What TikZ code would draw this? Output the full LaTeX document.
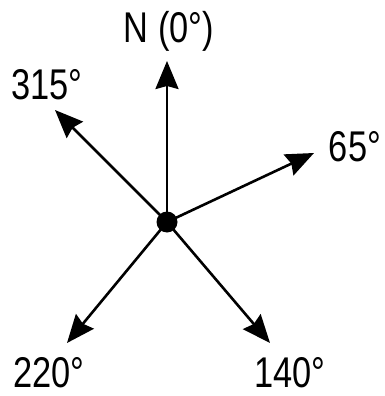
\documentclass[tikz,border=0pt]{standalone}
\usepackage{fontspec}
\setmainfont{Liberation Sans}[FakeStretch=0.8]
\usetikzlibrary{arrows.meta}
\begin{document}
\begin{tikzpicture}[x=1pt,y=-1pt,
  dirarrow/.style={line width=2.6pt,-{Stealth[length=28pt,width=23pt,inset=3pt]}},
  lbl/.style={anchor=base,inner sep=0pt,font=\fontsize{43}{50}\selectfont}]
\useasboundingbox (0,0) rectangle (385,396);
\node[circle,fill=black,minimum size=21pt,inner sep=0pt] (c) at (167,222) {};
\coordinate (n) at (167,61);
\coordinate (ne) at (314,153);
\coordinate (nw) at (55,110);
\coordinate (sw) at (67,343);
\coordinate (se) at (270,343);
\draw[dirarrow] (c.center) -- (n);
\draw[dirarrow] (c.center) -- (ne);
\draw[dirarrow] (c.center) -- (nw);
\draw[dirarrow] (c.center) -- (sw);
\draw[dirarrow] (c.center) -- (se);
\node[lbl] (ln) at (169,43) {N (0°)};
\node[lbl] (lnw) at (47,99) {315°};
\node[lbl] (lne) at (355,161) {65°};
\node[lbl] (lsw) at (49,387) {220°};
\node[lbl] (lse) at (290,387) {140°};
\end{tikzpicture}
\end{document}
